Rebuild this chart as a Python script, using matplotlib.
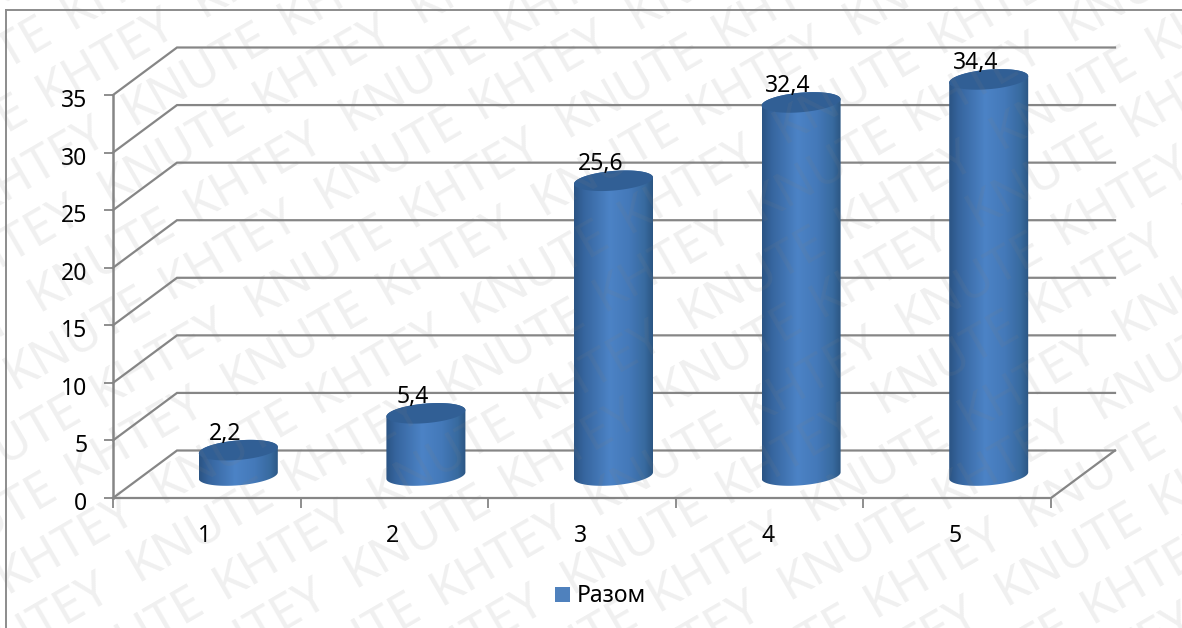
"""
3D-style cylinder column chart with a repeated diagonal watermark.
"""
import numpy as np
import matplotlib
matplotlib.use("Agg")
import matplotlib.pyplot as plt
from matplotlib.colors import LinearSegmentedColormap
from matplotlib.patches import PathPatch, Rectangle
from matplotlib.path import Path
from matplotlib.transforms import ScaledTranslation

W, H = 1182, 628

categories = ["1", "2", "3", "4", "5"]
values = [2.2, 5.4, 25.6, 32.4, 34.4]
value_labels = ["2,2", "5,4", "25,6", "32,4", "34,4"]
y_ticks = [0, 5, 10, 15, 20, 25, 30, 35]
series_name = "Разом"

plt.rcParams["font.family"] = ["Noto Sans", "DejaVu Sans"]

GRID = "#868686"
TOP = "#315f95"
FS = 16.5
side_cmap = LinearSegmentedColormap.from_list(
    "side", [(0, "#2b5484"), (0.12, "#36659e"), (0.45, "#4c83c6"),
             (0.7, "#4479b9"), (0.9, "#386a9f"), (1, "#2c5683")])

fig = plt.figure(figsize=(W / 100, H / 100), dpi=100)
ax = fig.add_axes([113 / W, 1 - 498 / H, (1051 - 113) / W, (498 - 95) / H])
ax.set_xlim(0.5, 5.5)
ax.set_ylim(0, 35)
ax.patch.set_alpha(0)
for s in ax.spines.values():
    s.set_visible(False)

PX_X = 187.6
PX_Y = 403 / 35

# depth of the chart box in data units
DX = 64 / PX_X
DY = 47.5 / PX_Y

# gridlines go from the front axis back and along the rear wall
for v in y_ticks:
    ax.plot([0.5, 0.5 + DX, 5.5 + DX], [v, v + DY, v + DY], color=GRID, lw=1.6,
            clip_on=False, solid_joinstyle="miter", zorder=1)
ax.plot([0.5, 5.5, 5.5 + DX], [0, 0, DY], color=GRID, lw=1.6, clip_on=False, zorder=1)
ax.plot([0.5, 0.5], [0, 35], color=GRID, lw=1.8, clip_on=False, zorder=1)

ax.set_xticks([0.5, 1.5, 2.5, 3.5, 4.5, 5.5])
ax.set_xticklabels([])
ax.set_yticks(y_ticks)
ax.tick_params(axis="x", length=7, width=1.3, color=GRID)
ax.tick_params(axis="y", length=6.5, width=1.3, color=GRID, labelsize=FS, pad=12)
# tick labels sit a little below their ticks
for lab in ax.get_yticklabels():
    lab.set_transform(lab.get_transform() + ScaledTranslation(0, -3 / 100, fig.dpi_scale_trans))

# cylinders sit about halfway into the depth of the floor
half_w = 39.5 / PX_X
ry = 9.8 / PX_Y
shear = 3.2 / PX_Y
base_off_x = 31.5 / PX_X
base_off_y = 22.5 / PX_Y


def ellipse_xy(cx, cy, start, stop):
    t = np.linspace(start, stop, 80)
    return cx + half_w * np.cos(t), cy + ry * np.sin(t) + shear * np.cos(t)


for i, (cat, val, lab) in enumerate(zip(categories, values, value_labels)):
    cx = i + 1 + base_off_x
    y0 = base_off_y
    y1 = y0 + val
    # body outline: lower half of the base ellipse, then back over the top one
    bx, by = ellipse_xy(cx, y0, np.pi, 2 * np.pi)
    tx, ty = ellipse_xy(cx, y1, 0, np.pi)
    verts = np.column_stack([np.r_[bx, tx], np.r_[by, ty]])
    body = Path(np.vstack([verts, verts[0]]), closed=True)
    img = ax.imshow(np.linspace(0, 1, 128).reshape(1, -1), cmap=side_cmap, aspect="auto",
                    extent=[cx - half_w, cx + half_w, y0 - 2, y1 + 2], zorder=3)
    img.set_clip_path(PathPatch(body, transform=ax.transData))
    img.set_clip_box(fig.bbox)
    ex, ey = ellipse_xy(cx, y1, 0, 2 * np.pi)
    ax.fill(ex, ey, color=TOP, lw=0, zorder=4, clip_on=False)
    ax.text(cx - 0.07, y1 + np.hypot(ry, shear), lab, ha="center", va="baseline", fontsize=FS,
            color="black", zorder=6, clip_on=False)
    ax.text(i + 1 - 0.01, -3.3, cat, ha="center", va="center", fontsize=FS, color="black")

ax.set_xlim(0.5, 5.5)
ax.set_ylim(0, 35)

# legend
fig.add_artist(Rectangle((555 / W, 1 - 602 / H), 15 / W, 15 / H, transform=fig.transFigure,
                         facecolor="#4f81bd", edgecolor="none"))
fig.text(577 / W, 1 - 596 / H, series_name, ha="left", va="center", fontsize=FS, color="black")

# outer frame
for xs, ys in [((6, 6), (10, 628)), ((6, 1182), (10, 10))]:
    fig.add_artist(plt.Line2D([x / W for x in xs], [1 - y / H for y in ys], color="#8c8c8c", lw=1.4))

# watermark: four words per tile, tiled along two lattice vectors
tile_a = np.array([217, 6])
tile_b = np.array([311, -180])
tile_words = [("KNUTE", (0, 0)), ("KHTEY", (86, 18)), ("KHTEY", (155, -90)), ("KNUTE", (241, -72))]
origin = np.array([137, 582])
for m in range(-8, 9):
    for n in range(-4, 6):
        for word, off in tile_words:
            px, py = origin + m * tile_a + n * tile_b + np.array(off)
            if -200 < px < W + 20 and -20 < py < H + 200:
                fig.text(px / W, 1 - py / H, word, fontsize=36, color="#808080", alpha=0.12,
                         rotation=30, rotation_mode="anchor", ha="left", va="baseline", zorder=20)

fig.savefig("out.png", dpi=100)
